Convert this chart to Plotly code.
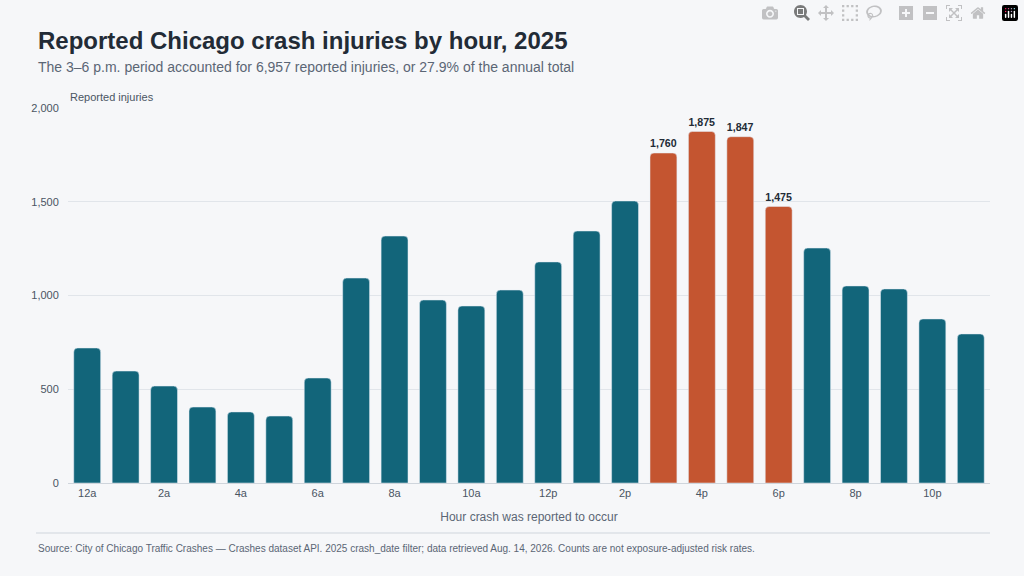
import plotly.graph_objects as go

hours = ["12a", "1a", "2a", "3a", "4a", "5a", "6a", "7a", "8a", "9a", "10a", "11a",
         "12p", "1p", "2p", "3p", "4p", "5p", "6p", "7p", "8p", "9p", "10p", "11p"]
injuries = [720, 597, 517, 405, 379, 357, 560, 1093, 1317, 976, 944, 1029,
            1179, 1344, 1504, 1760, 1875, 1847, 1475, 1253, 1051, 1035, 875, 795]
peak_hours = ["3p", "4p", "5p", "6p"]
tick_hours = hours[::2]

TEAL = "#12657a"
ORANGE = "#c45530"
BG = "#f6f7f9"

colors = [ORANGE if h in peak_hours else TEAL for h in hours]
labels = [f"<b>{v:,}</b>" if h in peak_hours else "" for h, v in zip(hours, injuries)]

fig = go.Figure(go.Bar(
    x=hours, y=injuries,
    marker=dict(color=colors, cornerradius=4),
    text=labels, textposition="outside", cliponaxis=False,
    textfont=dict(size=12, color="#222b36", family="Liberation Sans"),
    hovertemplate="%{x}: %{y:,}<extra></extra>",
))

fig.update_layout(
    width=1024, height=576,
    paper_bgcolor=BG, plot_bgcolor=BG,
    font=dict(family="Liberation Sans, Arial, sans-serif", color="#5b6675"),
    margin=dict(l=68, r=34, t=108, b=93),
    bargap=0.3,
    showlegend=False,
    xaxis=dict(
        tickmode="array", tickvals=tick_hours, ticktext=tick_hours,
        tickfont=dict(size=11, color="#4a5563"),
        title=dict(text="Hour crash was reported to occur", font=dict(size=12, color="#5b6675"), standoff=14),
        showgrid=False, showline=True, linecolor="#cfd5dc", ticks="",
    ),
    yaxis=dict(
        range=[0, 2000], tickvals=[0, 500, 1000, 1500, 2000], tickformat=",",
        tickfont=dict(size=11, color="#4a5563"),
        gridcolor="#e1e5ea", zeroline=False, ticks="outside", ticklen=6, tickcolor=BG,
    ),
    annotations=[
        dict(text="<b>Reported Chicago crash injuries by hour, 2025</b>", x=36, y=40,
             showarrow=False, xanchor="left", yanchor="middle",
             font=dict(size=24, color="#222b36")),
        dict(text="The 3–6 p.m. period accounted for 6,957 reported injuries, or 27.9% of the annual total",
             x=36, y=67, showarrow=False, xanchor="left", yanchor="middle",
             font=dict(size=14, color="#5b6675")),
        dict(text="Reported injuries", x=68, y=97, showarrow=False, xanchor="left", yanchor="middle",
             font=dict(size=11, color="#4a5563")),
        dict(text="Source: City of Chicago Traffic Crashes — Crashes dataset API. 2025 crash_date filter; data retrieved Aug. 14, 2026. Counts are not exposure-adjusted risk rates.",
             x=36, y=548, showarrow=False, xanchor="left", yanchor="middle",
             font=dict(size=10, color="#5b6675")),
    ],
    shapes=[dict(type="line", x0=36, x1=990, y0=533, y1=533, line=dict(color="#cfd5dc", width=1))],
)

# place header/footer in pixel coordinates
for a in fig.layout.annotations:
    a.xref = "paper"
    a.yref = "paper"
    a.x = (a.x - 68) / (1024 - 68 - 34)
    a.y = (576 - 93 - a.y) / (576 - 108 - 93)
s = fig.layout.shapes[0]
s.xref = "paper"; s.yref = "paper"
s.x0 = (36 - 68) / 922; s.x1 = (990 - 68) / 922
s.y0 = s.y1 = (483 - 533) / 375

fig.write_html(
    "out.html",
    post_script="document.body.style.margin='0';document.body.style.overflow='hidden';"
                "document.body.style.background='" + BG + "';",
)
